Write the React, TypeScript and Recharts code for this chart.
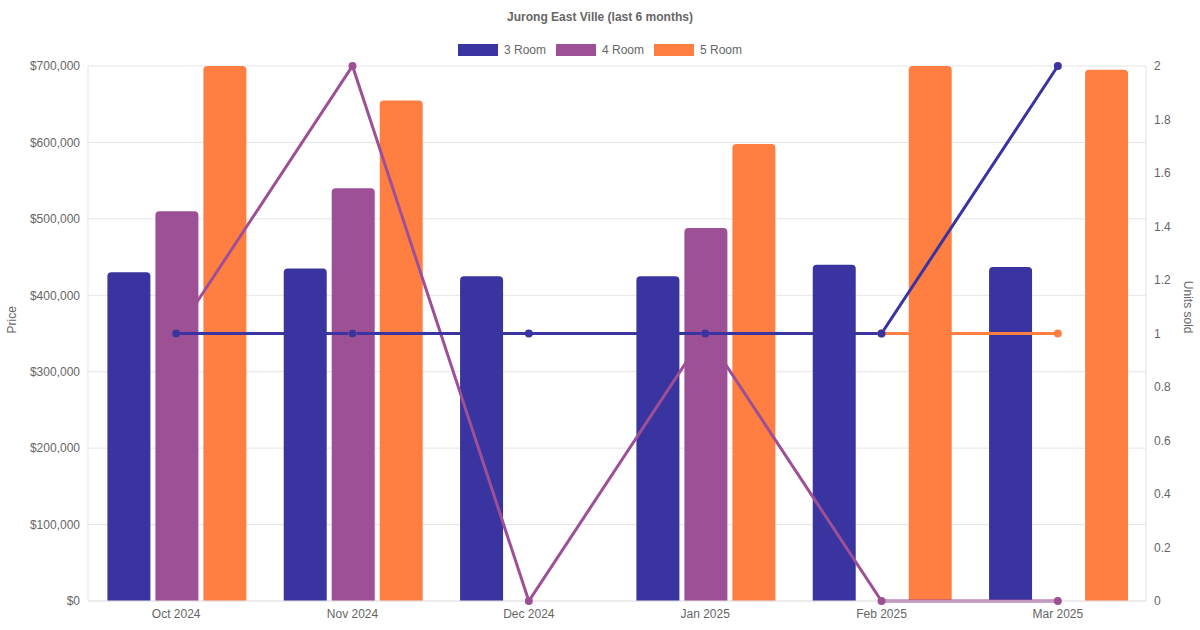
import { ComposedChart, Bar, Line, XAxis, YAxis, CartesianGrid } from 'recharts';

const months = ['Oct 2024', 'Nov 2024', 'Dec 2024', 'Jan 2025', 'Feb 2025', 'Mar 2025'];
const price3 = [430000, 435000, 425000, 425000, 440000, 437000];
const price4 = [510000, 540000, null, 488000, null, null];
const price5 = [700000, 655000, null, 598000, 700000, 695000];
const units3 = [1, 1, 1, 1, 1, 2];
const units4 = [1, 2, 0, 1, 0, 0];
const units5 = [1, 1, null, 1, 1, 1];
const priceTicks = [0, 100000, 200000, 300000, 400000, 500000, 600000, 700000];
const unitTicks = [0, 0.2, 0.4, 0.6, 0.8, 1, 1.2, 1.4, 1.6, 1.8, 2];

const C3 = '#3a34a0';
const C4 = '#9e5096';
const C5 = '#ff7f42';

const data = months.map((m, i) => ({
  month: m,
  p3: price3[i], p4: price4[i], p5: price5[i],
  u3: units3[i], u4: units4[i], u5: units5[i],
}));

const font = { fontFamily: 'Liberation Sans, Arial, sans-serif', fontSize: 12, fill: '#666' };

const legend = [
  { name: '3 Room', color: C3 },
  { name: '4 Room', color: C4 },
  { name: '5 Room', color: C5 },
];

export default function App() {
  return (
    <div style={{ position: 'absolute', left: 0, top: 0, width: 1200, height: 630, background: '#fff', fontFamily: 'Liberation Sans, Arial, sans-serif' }}>
      <div style={{ position: 'absolute', top: 10, width: 1200, textAlign: 'center', fontSize: 12, fontWeight: 'bold', color: '#666' }}>
        Jurong East Ville (last 6 months)
      </div>
      <div style={{ position: 'absolute', top: 43, width: 1200, display: 'flex', justifyContent: 'center', gap: 10, fontSize: 12, color: '#666' }}>
        {legend.map(l => (
          <div key={l.name} style={{ display: 'flex', alignItems: 'center' }}>
            <span style={{ display: 'inline-block', width: 40, height: 12, background: l.color, marginRight: 6 }} />
            {l.name}
          </div>
        ))}
      </div>
      <ComposedChart width={1200} height={630} data={data} barCategoryGap="11%" barGap={5}
        margin={{ top: 66, right: 0, left: 0, bottom: 0 }}>
        <CartesianGrid vertical={false} stroke="#e5e5e5" yAxisId="price" />
        <XAxis dataKey="month" tick={font} tickLine={false} axisLine={{ stroke: '#e5e5e5' }} height={29} />
        <YAxis yAxisId="price" width={88} domain={[0, 700000]} ticks={priceTicks} tick={font}
          tickLine={false} axisLine={{ stroke: '#e5e5e5' }}
          tickFormatter={(v: number) => '$' + v.toLocaleString('en-US')}
          label={{ value: 'Price', angle: -90, position: 'insideLeft', offset: 12, style: font }} />
        <YAxis yAxisId="units" orientation="right" width={54} domain={[0, 2]} ticks={unitTicks} tick={font}
          tickLine={false} axisLine={{ stroke: '#e5e5e5' }}
          label={{ value: 'Units sold', angle: 90, position: 'insideRight', offset: 12, style: font }} />
        <Bar yAxisId="price" dataKey="p3" fill={C3} radius={[4, 4, 0, 0]} isAnimationActive={false} />
        <Bar yAxisId="price" dataKey="p4" fill={C4} radius={[4, 4, 0, 0]} isAnimationActive={false} />
        <Bar yAxisId="price" dataKey="p5" fill={C5} radius={[4, 4, 0, 0]} isAnimationActive={false} />
        <Line yAxisId="units" dataKey="u5" stroke={C5} strokeWidth={3} connectNulls
          dot={{ r: 2.5, fill: C5, stroke: C5 }} isAnimationActive={false} />
        <Line yAxisId="units" dataKey="u4" stroke={C4} strokeWidth={3}
          dot={{ r: 2.5, fill: C4, stroke: C4 }} isAnimationActive={false} />
        <Line yAxisId="units" dataKey="u3" stroke={C3} strokeWidth={3}
          dot={{ r: 2.5, fill: C3, stroke: C3 }} isAnimationActive={false} />
      </ComposedChart>
    </div>
  );
}
